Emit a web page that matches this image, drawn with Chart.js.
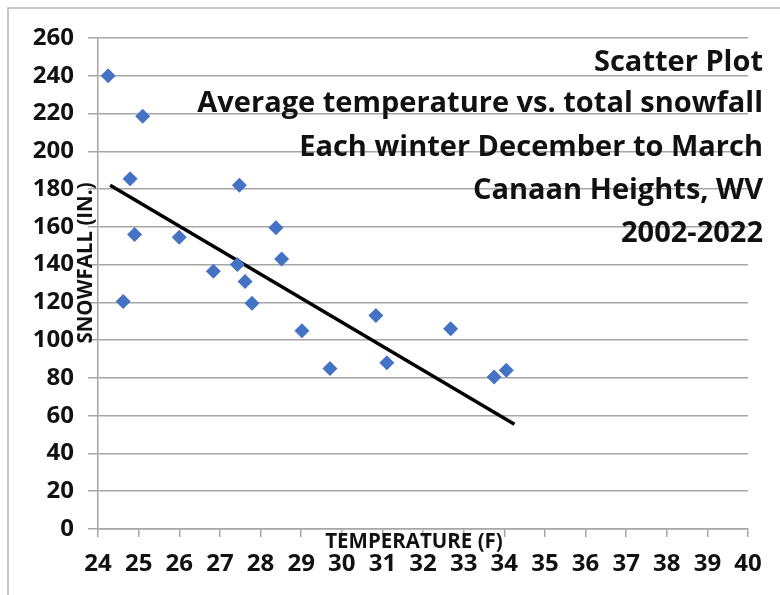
<!DOCTYPE html>
<html>
<head>
<meta charset="utf-8">
<script src="https://cdn.jsdelivr.net/npm/chart.js@4/dist/chart.umd.min.js"></script>
<style>
  body { margin: 0; background: #fff; }
  #wrap { width: 780px; height: 595px; }
</style>
</head>
<body>
<div id="wrap"><canvas id="chart" width="780" height="595"></canvas></div>
<script>
// winter average temperature (F) and total snowfall (in.), 2002-2022
const temps = [24.25, 25.1, 24.79, 27.48, 24.9, 26.0, 28.38, 28.52, 26.84, 27.43, 27.62,
  24.62, 27.79, 29.02, 29.71, 30.84, 31.11, 32.68, 33.75, 34.05];
const snowfall = [240, 218.5, 185.5, 182, 156, 154.5, 159.5, 143, 136.5, 140, 131,
  120.5, 119.5, 105, 85, 113, 88, 106, 80.5, 84];

// trend line end points as drawn in the reference
const trendX = [24.3, 34.25];
const trendY = [182, 55.5];

const xTicks = [24, 25, 26, 27, 28, 29, 30, 31, 32, 33, 34, 35, 36, 37, 38, 39, 40];
const yTicks = [0, 20, 40, 60, 80, 100, 120, 140, 160, 180, 200, 220, 240, 260];

const titleLines = [
  'Scatter Plot',
  'Average temperature vs. total snowfall',
  'Each winter December to March',
  'Canaan Heights, WV',
  '2002-2022'
];

const gridColor = '#a6a6a6';

const overlay = {
  id: 'overlay',
  beforeDraw(chart) {
    const ctx = chart.ctx;
    ctx.save();
    ctx.strokeStyle = '#b4b4b4';
    ctx.lineWidth = 1.5;
    ctx.beginPath();
    ctx.moveTo(8, 595);
    ctx.lineTo(8, 8);
    ctx.lineTo(780, 8);
    ctx.stroke();
    ctx.restore();
  },
  afterDraw(chart) {
    const ctx = chart.ctx;
    const area = chart.chartArea;
    ctx.save();
    ctx.fillStyle = '#111';
    // title block, right aligned in the top right of the plot
    ctx.font = 'bold 29px "Open Sans"';
    ctx.textAlign = 'right';
    ctx.textBaseline = 'alphabetic';
    const baselines = [71, 112, 156, 199, 242];
    titleLines.forEach((t, i) => ctx.fillText(t, area.right + 15, baselines[i]));

    // axis titles
    ctx.font = 'bold 20.5px "Open Sans"';
    ctx.textAlign = 'center';
    ctx.textBaseline = 'middle';
    ctx.fillText('TEMPERATURE (F)', 414, area.bottom + 13);

    ctx.translate(86, 263);
    ctx.rotate(-Math.PI / 2);
    ctx.fillText('SNOWFALL (IN.)', 0, 0);
    ctx.restore();
  }
};

new Chart(document.getElementById('chart'), {
  type: 'scatter',
  data: {
    datasets: [
      {
        label: 'Snowfall',
        data: temps.map((t, i) => ({ x: t, y: snowfall[i] })),
        pointStyle: 'rectRot',
        pointRadius: 7.5,
        pointHoverRadius: 7.5,
        backgroundColor: '#4472c4',
        borderColor: '#4472c4',
        borderWidth: 0
      },
      {
        label: 'Trend',
        type: 'line',
        data: trendX.map((t, i) => ({ x: t, y: trendY[i] })),
        borderColor: '#000',
        borderWidth: 3.5,
        pointRadius: 0,
        fill: false
      }
    ]
  },
  options: {
    responsive: false,
    animation: false,
    layout: { padding: { left: 8, top: 38, right: 32, bottom: 0 } },
    plugins: {
      legend: { display: false },
      tooltip: { enabled: false }
    },
    scales: {
      x: {
        type: 'linear',
        min: 24, max: 40,
        afterBuildTicks: s => { s.ticks = xTicks.map(v => ({ value: v })); },
        afterFit: s => { s.height = 66; },
        grid: { drawOnChartArea: false, drawTicks: true, tickLength: 8, color: gridColor, lineWidth: 1.5 },
        border: { color: gridColor, width: 1.5 },
        ticks: { color: '#111', padding: 13, font: { family: 'Open Sans', size: 24, weight: 'bold' } }
      },
      y: {
        min: 0, max: 260,
        afterBuildTicks: s => { s.ticks = yTicks.map(v => ({ value: v })); },
        afterFit: s => { s.width = 90; },
        grid: { color: gridColor, lineWidth: 1.5, tickLength: 10 },
        border: { color: gridColor, width: 1.5 },
        ticks: { color: '#111', padding: 14, font: { family: 'Open Sans', size: 24, weight: 'bold' } }
      }
    }
  },
  plugins: [overlay]
});
</script>
</body>
</html>
